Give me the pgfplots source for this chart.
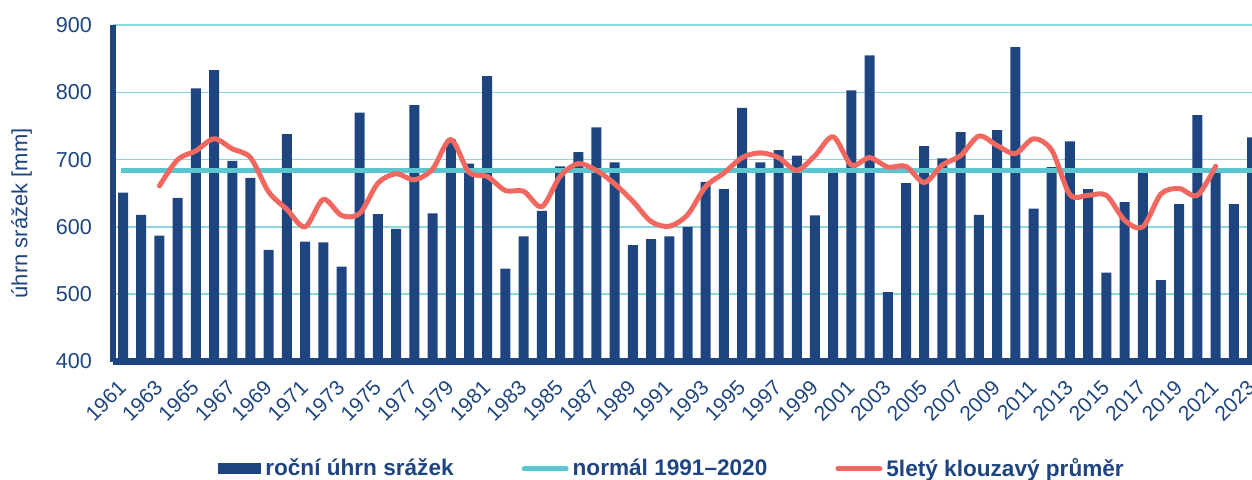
\documentclass[border=0pt]{standalone}
\usepackage{fontspec}
\setmainfont{Liberation Sans}
\usepackage{pgfplots}
\pgfplotsset{compat=1.18}
\definecolor{barblue}{RGB}{31,69,128}
\definecolor{textblue}{RGB}{31,69,128}
\definecolor{normalteal}{RGB}{91,197,208}
\definecolor{gridteal}{RGB}{140,214,222}
\definecolor{mared}{RGB}{240,104,96}
\begin{document}
\begin{tikzpicture}
\begin{axis}[
  width=569.5pt, height=168.25pt, scale only axis,
  xmin=1960.45, xmax=2023, ymin=400, ymax=900,
  ytick={400,500,...,900},
  xtick={1961,1963,...,2023},
  ymajorgrids, grid style={gridteal, line width=0.75pt},
  major tick length=0pt,
  axis x line*=bottom, axis y line*=left,
  x axis line style={line width=3.5pt, barblue},
  y axis line style={line width=3pt, barblue},
  /pgf/number format/1000 sep={},
  /pgf/number format/assume math mode=true,
  yticklabel style={font=\fontsize{10.8}{13}\selectfont, text=textblue, xshift=-7pt},
  xticklabel style={font=\fontsize{10.5}{12}\selectfont, text=textblue, xshift=-3pt, yshift=-8.5pt, rotate=45, anchor=north east, inner sep=0pt},
  ylabel={úhrn srážek [mm]},
  ylabel style={at={(axis description cs:-0.0802,0.44)}, anchor=center, font=\fontsize{11}{13}\selectfont, text=textblue},
  legend columns=3,
  legend style={at={(axis description cs:0.4917,-0.3224)}, anchor=center, yshift=0.5pt, draw=none, fill=none,
    font=\bfseries\fontsize{11.3}{13}\selectfont, text=textblue,
    /tikz/every even column/.append style={column sep=32pt}},
]
\addplot[fill=barblue, draw=none, ybar, bar width=5pt,
  legend image code/.code={\fill[barblue] (0pt,-2.75pt) rectangle (21.5pt,2.75pt);}]
coordinates {
(1961,651) (1962,618) (1963,587) (1964,643) (1965,806) (1966,833) (1967,698) (1968,673)
(1969,566) (1970,738) (1971,578) (1972,577) (1973,541) (1974,770) (1975,619) (1976,597)
(1977,781) (1978,620) (1979,730) (1980,694) (1981,824) (1982,538) (1983,586) (1984,624)
(1985,690) (1986,711) (1987,748) (1988,696) (1989,573) (1990,582) (1991,586) (1992,600)
(1993,667) (1994,656) (1995,777) (1996,696) (1997,714) (1998,706) (1999,617) (2000,683)
(2001,803) (2002,855) (2003,503) (2004,665) (2005,720) (2006,702) (2007,741) (2008,618)
(2009,744) (2010,867) (2011,627) (2012,689) (2013,727) (2014,656) (2015,532) (2016,637)
(2017,681) (2018,521) (2019,634) (2020,766) (2021,681) (2022,634) (2023,733)
};
\addlegendentry{roční úhrn srážek}
\addplot[normalteal, line width=2.5pt,
  legend image code/.code={\draw[normalteal, line width=2.5pt, line cap=round] (1.25pt,0pt) -- (22.25pt,0pt);}]
coordinates {(1960.9,684) (2023,684)};
\addlegendentry{normál 1991–2020}
\addplot[mared, line width=2.5pt, smooth, line cap=round, line join=round,
  legend image code/.code={\draw[mared, line width=2.5pt, line cap=round] (1.25pt,0pt) -- (22.25pt,0pt);}]
coordinates {
(1963,661) (1964,700) (1965,713) (1966,731) (1967,716) (1968,703) (1969,652) (1970,626)
(1971,600) (1972,641) (1973,617) (1974,620) (1975,665) (1976,679) (1977,670) (1978,686)
(1979,730) (1980,681) (1981,675) (1982,654) (1983,653) (1984,630) (1985,675) (1986,694)
(1987,684) (1988,664) (1989,638) (1990,608) (1991,601) (1992,618) (1993,660) (1994,680)
(1995,703) (1996,710) (1997,703) (1998,684) (1999,706) (2000,734) (2001,692) (2002,703)
(2003,689) (2004,690) (2005,666) (2006,692) (2007,706) (2008,735) (2009,721) (2010,709)
(2011,731) (2012,714) (2013,648) (2014,647) (2015,647) (2016,610) (2017,600) (2018,649)
(2019,657) (2020,647) (2021,690)
};
\addlegendentry{5letý klouzavý průměr}
\end{axis}
\pgfresetboundingbox
\useasboundingbox (-56.5pt,-58.75pt) rectangle (569.5pt,180.75pt);
\end{tikzpicture}
\end{document}
